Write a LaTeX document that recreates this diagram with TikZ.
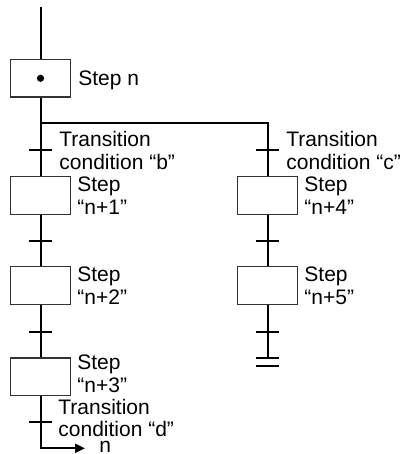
\documentclass[tikz,border=0pt]{standalone}
\usepackage{fontspec}
\setmainfont{Liberation Sans}
\usetikzlibrary{arrows.meta,positioning}

\begin{document}
\begin{tikzpicture}[x=0.5pt, y=-0.5pt, >={Triangle[length=5pt,width=4.5pt]},
  font=\fontsize{10.5}{11.3}\selectfont,
  stepbox/.style={draw=black!80, line width=0.6pt, minimum width=29.8pt,
                  minimum height=18.8pt, inner sep=0pt},
  lbl/.style={anchor=base west, align=left, inner sep=0pt},
  flow/.style={line width=1pt},
  bar/.style={line width=1pt}]
\useasboundingbox (0,0) rectangle (403,454);

% --- initial step ---
\coordinate (in) at (40.5,7);
\node[stepbox] (sn) at (40.5,78.3) {};
\fill (sn.center) circle (1.8pt);
\node[lbl] (lsn) at (78,86) {Step n};

% --- divergence ---
\coordinate (fork) at (40.5,123);
\coordinate (forkc) at (267.5,123);

% --- left sequence ---
\node[stepbox] (s1) at (40.5,195.3) {};
\node[stepbox] (s2) at (40.5,285.3) {};
\node[stepbox] (s3) at (40.5,376.7) {};
\coordinate (tb) at (40.5,150);
\coordinate (t12) at (40.5,241);
\coordinate (t23) at (40.5,332);
\coordinate (td) at (40.5,422);
\coordinate (dend) at (40.5,448.3);
\coordinate (nout) at (85,448.3);

\node[lbl] (ltb) at (59,169.3) {Transition\\condition “b”};
\node[lbl] (ls1) at (77,214.3) {Step\\“n+1”};
\node[lbl] (ls2) at (77,304.3) {Step\\“n+2”};
\node[lbl] (ls3) at (77,392.3) {Step\\“n+3”};
\node[lbl] (ltd) at (58,436.7) {Transition\\condition “d”};
\node[lbl] (ln) at (99,452) {n};

% --- right sequence ---
\node[stepbox] (s4) at (267.5,195.3) {};
\node[stepbox] (s5) at (267.5,285.3) {};
\coordinate (tc) at (267.5,150);
\coordinate (t45) at (267.5,241);
\coordinate (t5) at (267.5,332);
\coordinate (e1) at (267.5,357.7);
\coordinate (e2) at (267.5,365.7);

\node[lbl] (ltc) at (286,169.3) {Transition\\condition “c”};
\node[lbl] (ls4) at (304,214.3) {Step\\“n+4”};
\node[lbl] (ls5) at (304,304.3) {Step\\“n+5”};

% --- flow lines ---
\draw[flow] (in) -- (sn);
\draw[flow] (sn) -- (s1);
\draw[flow] (s1) -- (s2);
\draw[flow] (s2) -- (s3);
\draw[flow, ->] (s3) -- (dend) -- (nout);
\draw[flow] (fork) -- (forkc) -- (s4);
\draw[flow] (s4) -- (s5);
\draw[flow] (s5) -- (e1);

% --- transitions ---
\foreach \t in {tb,t12,t23,td,tc,t45,t5,e1,e2}
  \draw[bar] ([xshift=-5.75pt]\t) -- ([xshift=5.75pt]\t);
\end{tikzpicture}
\end{document}
